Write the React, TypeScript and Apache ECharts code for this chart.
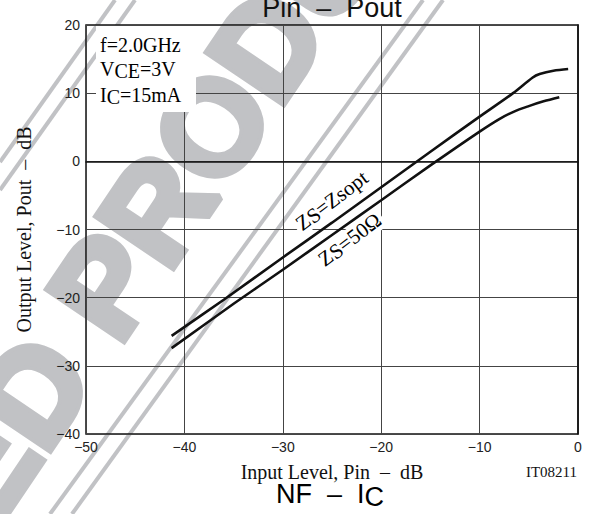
import React, { useEffect, useRef } from "react";
import * as echarts from "echarts";

// Input level Pin (dB) and output level Pout (dB) for Zs = Zsopt
const pinZsopt = [-41.3, -36, -30, -25, -20, -15, -10, -6.6, -4.6, -3.9, -2.5, -1.0];
const poutZsopt = [-25.6, -20.3, -14.1, -9.0, -3.8, 1.4, 6.56, 10.0, 12.3, 12.8, 13.3, 13.55];
// Zs = 50 ohm
const pinZs50 = [-41.3, -35, -30, -25, -20, -15, -10, -8, -6.5, -5, -3.5, -1.9];
const poutZs50 = [-27.4, -20.9, -15.9, -10.8, -5.7, -0.6, 4.36, 6.2, 7.3, 8.1, 8.8, 9.4];

const xMin = -50;
const xMax = 0;
const xStep = 10;
const yMin = -40;
const yMax = 20;
const yStep = 10;

const titleText = "Pin  \u2013  Pout";
const xName = "Input Level, Pin  \u2013  dB";
const yName = "Output Level, Pout  \u2013  dB";
const condLines = [
  ["f=2.0GHz", ""],
  ["V", "CE", "=3V"],
  ["I", "C", "=15mA"],
];

const SERIF = '"Liberation Serif", "Times New Roman", serif';
const SANS = '"Liberation Sans", Arial, sans-serif';
const WM = "#c1c2c5";

const zip = (a: number[], b: number[]) => a.map((v, i) => [v, b[i]]);
const fmt = (v: number) => String(v).replace("-", "\u2212");

function subRich(size: number, lh: number, drop: number, family: string) {
  return {
    n: { fontFamily: family, fontSize: size, lineHeight: lh, verticalAlign: "top", color: "#111" },
    s: {
      fontFamily: family,
      fontSize: size,
      lineHeight: lh,
      padding: [drop, 0, 0, 0],
      verticalAlign: "bottom",
      color: "#111",
    },
  };
}

export default function App() {
  const ref = useRef<HTMLDivElement>(null);
  useEffect(() => {
    const chart = echarts.init(ref.current!, null, { renderer: "svg" });
    const deg = Math.PI / 180;
    const wmLines = [
      [115, 0, 0, 162],
      [135, 0, 0, 190],
      [423, 0, 50, 514],
      [443, 0, 72, 514],
    ];
    const condTops = [35.2, 59.2, 85.2];
    const elements: any[] = [
      ...wmLines.map((l) => ({
        type: "line",
        z: -1,
        silent: true,
        shape: { x1: l[0], y1: l[1], x2: l[2], y2: l[3] },
        style: { stroke: WM, lineWidth: 4 },
      })),
      {
        type: "text",
        z: -1,
        silent: true,
        x: -42,
        y: 504,
        rotation: 56 * deg,
        style: {
          text: "ED PRODUCT",
          font: 'bold 132px "Liberation Sans"',
          fill: WM,
          stroke: WM,
          lineWidth: 8,
          align: "left",
          verticalAlign: "middle",
          textAlign: "left",
          textVerticalAlign: "middle",
        },
      },
      {
        type: "rect",
        z: 1,
        shape: { x: 96, y: 26, width: 100, height: 86 },
        style: { fill: "#fff" },
      },
      ...condLines.map((ln, i) => ({
        type: "text",
        z: 3,
        x: 100,
        y: condTops[i],
        style: {
          text: ln.length === 2 ? `{n|${ln[0]}}` : `{n|${ln[0]}}{s|${ln[1]}}{n|${ln[2]}}`,
          rich: subRich(20, 22, 6, SERIF),
          align: "left",
          verticalAlign: "top",
          textAlign: "left",
          textVerticalAlign: "top",
        },
      })),
      {
        type: "text",
        z: 1,
        x: 332,
        y: 201,
        rotation: 37 * deg,
        style: {
          text: "{n|Z}{s|S}{n|=Zsopt}",
          rich: subRich(21, 22, 6, SERIF),
          align: "center",
          verticalAlign: "middle",
          textAlign: "center",
          textVerticalAlign: "middle",
          backgroundColor: "#fff",
          padding: [0, 3, 0, 3],
        },
      },
      {
        type: "text",
        z: 1,
        x: 350,
        y: 240,
        rotation: 37 * deg,
        style: {
          text: "{n|Z}{s|S}{n|=50\u03a9}",
          rich: subRich(21, 22, 6, SERIF),
          align: "center",
          verticalAlign: "middle",
          textAlign: "center",
          textVerticalAlign: "middle",
          backgroundColor: "#fff",
          padding: [0, 3, 0, 3],
        },
      },
      {
        type: "text",
        z: 3,
        x: 332,
        y: 7.5,
        style: {
          text: titleText,
          font: `27px ${SANS}`,
          fill: "#111",
          align: "center",
          verticalAlign: "middle",
          textAlign: "center",
          textVerticalAlign: "middle",
        },
      },
      {
        type: "text",
        z: 3,
        x: 577,
        y: 472,
        style: {
          text: "IT08211",
          font: `15px ${SERIF}`,
          fill: "#111",
          align: "right",
          verticalAlign: "middle",
          textAlign: "right",
          textVerticalAlign: "middle",
        },
      },
      {
        type: "text",
        z: 3,
        x: 330,
        y: 480.5,
        style: {
          text: "{n|NF  \u2013  I}{s|C}",
          rich: subRich(27, 30, 8, SANS),
          align: "center",
          verticalAlign: "top",
          textAlign: "center",
          textVerticalAlign: "top",
        },
      },
    ];

    const lineSeries = (name: string, xs: number[], ys: number[]) => ({
      name,
      type: "line",
      data: zip(xs, ys),
      showSymbol: false,
      smooth: 0.3,
      z: 2,
      lineStyle: { color: "#111", width: 2.6 },
    });

    chart.setOption({
      animation: false,
      backgroundColor: "#fff",
      grid: {
        left: 86,
        top: 25,
        width: 492,
        height: 409,
        show: true,
        borderColor: "#111",
        borderWidth: 1.5,
        outerBoundsMode: "none",
        containLabel: false,
      },
      xAxis: {
        type: "value",
        min: xMin,
        max: xMax,
        interval: xStep,
        name: xName,
        nameLocation: "middle",
        nameGap: 28,
        nameTextStyle: { fontFamily: SERIF, fontSize: 20, color: "#111" },
        axisLine: { show: true, lineStyle: { color: "#111", width: 1.5 } },
        axisTick: { show: false },
        axisLabel: { fontFamily: SANS, fontSize: 14, color: "#222", margin: 6, formatter: fmt },
        splitLine: { show: true, lineStyle: { color: "#444", width: 1 } },
      },
      yAxis: {
        type: "value",
        min: yMin,
        max: yMax,
        interval: yStep,
        name: yName,
        nameLocation: "middle",
        nameGap: 52,
        nameTextStyle: { fontFamily: SERIF, fontSize: 20, color: "#111" },
        axisLine: { show: true, lineStyle: { color: "#111", width: 1.5 } },
        axisTick: { show: false },
        axisLabel: { fontFamily: SANS, fontSize: 14, color: "#222", margin: 6, formatter: fmt },
        splitLine: { show: true, lineStyle: { color: "#444", width: 1 } },
      },
      series: [lineSeries("Zs=Zsopt", pinZsopt, poutZsopt), lineSeries("Zs=50\u03a9", pinZs50, poutZs50)],
      graphic: { elements },
    });
    return () => chart.dispose();
  }, []);
  return (
    <div
      ref={ref}
      style={{ position: "fixed", left: 0, top: 0, width: 602, height: 514, background: "#fff" }}
    />
  );
}
